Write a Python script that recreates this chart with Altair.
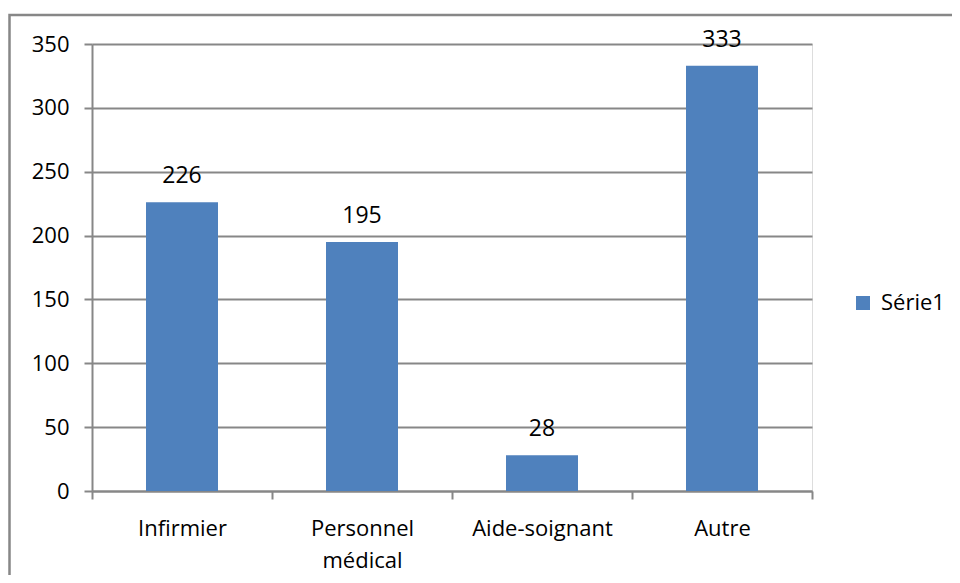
import altair as alt
import pandas as pd

categories = ["Infirmier", "Personnel médical", "Aide-soignant", "Autre"]
values = [226, 195, 28, 333]
series_name = "Série1"
y_ticks = [0, 50, 100, 150, 200, 250, 300, 350]

df = pd.DataFrame({"cat": categories, "val": values, "serie": [series_name] * len(categories)})

GRAY = "#878787"
BLUE = "#4F81BD"
FONT = "Open Sans"

x_enc = alt.X(
    "cat:N",
    sort=categories,
    scale=alt.Scale(paddingInner=0, paddingOuter=0),
    axis=alt.Axis(
        title=None,
        labelAngle=0,
        labelExpr="split(datum.label, ' ')",
        labelLineHeight=32,
        labelFont=FONT,
        labelFontSize=22,
        labelColor="black",
        labelPadding=19,
        labelBaseline="top",
        tickBand="extent",
        tickSize=8,
        tickColor=GRAY,
        tickWidth=2,
        domainColor=GRAY,
        domainWidth=2,
        grid=False,
    ),
)

y_enc = alt.Y(
    "val:Q",
    scale=alt.Scale(domain=[0, 350], nice=False),
    axis=alt.Axis(
        title=None,
        values=y_ticks,
        grid=True,
        gridColor=GRAY,
        gridWidth=2,
        tickSize=8,
        tickColor=GRAY,
        tickWidth=2,
        domainColor=GRAY,
        domainWidth=2,
        labelFont=FONT,
        labelFontSize=22,
        labelColor="black",
        labelPadding=15,
    ),
)

base = alt.Chart(df)

bars = base.mark_bar(width=alt.RelativeBandSize(0.4)).encode(
    x=x_enc,
    y=y_enc,
    color=alt.Color(
        "serie:N",
        scale=alt.Scale(range=[BLUE]),
        legend=alt.Legend(
            title=None,
            orient="none",
            legendX=760,
            legendY=248,
            symbolType="square",
            symbolSize=196,
            symbolStrokeWidth=0,
            labelFont=FONT,
            labelFontSize=22,
            labelColor="black",
            labelOffset=7,
        ),
    ),
)

labels = base.mark_text(dy=-19, baseline="alphabetic", font=FONT, fontSize=23, color="black").encode(
    x=alt.X("cat:N", sort=categories),
    y="val:Q",
    text="val:Q",
)

border = alt.Chart(alt.Data(values=[{"a": 1}])).mark_rect(
    fill=None, stroke=GRAY, strokeWidth=2.5
).encode(
    x=alt.value(-82.5), x2=alt.value(1200), y=alt.value(-29), y2=alt.value(900)
)

chart = alt.layer(border, bars, labels).properties(
    width=720,
    height=447,
    padding={"left": 84, "top": 36, "right": 140, "bottom": 84},
    autosize=alt.AutoSizeParams(type="none"),
).configure_view(stroke=None).configure(background="white")

chart.save("out.html", embed_options={"renderer": "svg", "actions": False})
